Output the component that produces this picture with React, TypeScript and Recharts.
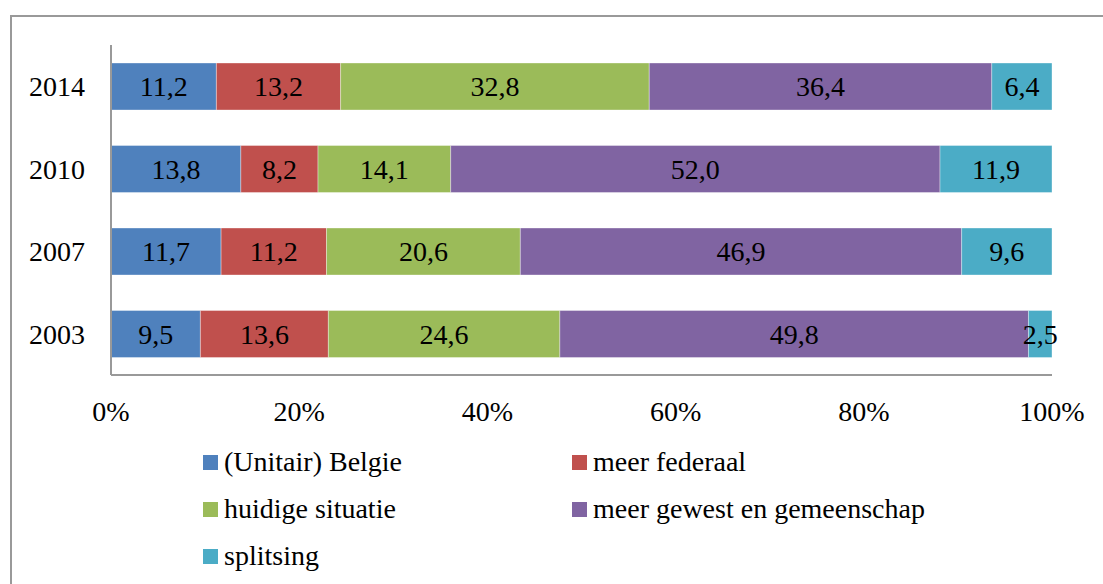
import { BarChart, Bar, XAxis, YAxis, Legend, LabelList } from "recharts";

const YEARS = ["2014", "2010", "2007", "2003"];

const UNITAIR = [11.2, 13.8, 11.7, 9.5];
const FEDERAAL = [13.2, 8.2, 11.2, 13.6];
const HUIDIG = [32.8, 14.1, 20.6, 24.6];
const GEWEST = [36.4, 52.0, 46.9, 49.8];
const SPLITSING = [6.4, 11.9, 9.6, 2.5];

const X_TICKS = [0, 20, 40, 60, 80, 100];

const SERIES = [
  { key: "unitair", name: "(Unitair) Belgie", color: "#4F81BD", values: UNITAIR },
  { key: "federaal", name: "meer federaal", color: "#C0504D", values: FEDERAAL },
  { key: "huidig", name: "huidige situatie", color: "#9BBB59", values: HUIDIG },
  { key: "gewest", name: "meer gewest en gemeenschap", color: "#8064A2", values: GEWEST },
  { key: "splitsing", name: "splitsing", color: "#4BACC6", values: SPLITSING },
];

const FONT = '"Liberation Serif", serif';
const FS = 28;

const data = YEARS.map((year, i) => {
  const row: Record<string, string | number> = { year };
  SERIES.forEach((s) => {
    row[s.key] = s.values[i];
  });
  return row;
});

const fmt = (v: any) => Number(v).toFixed(1).replace(".", ",");

function LegendGrid() {
  return (
    <div
      style={{
        display: "grid",
        gridTemplateColumns: "369px 400px",
        rowGap: 15,
        fontFamily: FONT,
        fontSize: FS,
        color: "#000",
      }}
    >
      {SERIES.map((s) => (
        <div key={s.key} style={{ display: "flex", alignItems: "center", height: 32 }}>
          <span style={{ width: 15, height: 15, background: s.color, marginRight: 6, display: "inline-block" }} />
          <span>{s.name}</span>
        </div>
      ))}
    </div>
  );
}

export default function App() {
  return (
    <div style={{ position: "absolute", left: 0, top: 0, width: 1103, height: 584, background: "#fff", overflow: "hidden" }}>
      <div
        style={{
          position: "absolute",
          left: 10,
          top: 15,
          width: 1110,
          height: 600,
          borderLeft: "2px solid #999",
          borderTop: "2px solid #999",
        }}
      />
      <BarChart
        width={1103}
        height={584}
        data={data}
        layout="vertical"
        barSize={47}
        margin={{ top: 45, right: 51, bottom: 149, left: 0 }}
        style={{ position: "absolute", left: 0, top: 0 }}
      >
        <XAxis
          type="number"
          domain={[0, 100]}
          ticks={X_TICKS}
          tickFormatter={(v) => `${v}%`}
          axisLine={{ stroke: "#999", strokeWidth: 2 }}
          tickLine={false}
          tick={{ fontSize: FS, fill: "#000", fontFamily: FONT }}
          tickMargin={20}
          height={60}
          allowDataOverflow
        />
        <YAxis
          type="category"
          dataKey="year"
          width={111}
          axisLine={{ stroke: "#999", strokeWidth: 2 }}
          tickLine={false}
          tick={{ fontSize: FS, fill: "#000", fontFamily: FONT }}
          tickMargin={20}
        />
        <Legend
          layout="horizontal"
          verticalAlign="middle"
          align="center"
          content={() => <LegendGrid />}
          wrapperStyle={{ left: 203, top: 446, width: 800, height: 130 }}
        />
        {SERIES.map((s) => (
          <Bar key={s.key} dataKey={s.key} name={s.name} stackId="a" fill={s.color} stroke="#ffffff" strokeOpacity={0.35} isAnimationActive={false}>
            <LabelList dataKey={s.key} position="center" formatter={fmt} style={{ fontSize: FS, fill: "#000", fontFamily: FONT }} />
          </Bar>
        ))}
      </BarChart>
    </div>
  );
}
